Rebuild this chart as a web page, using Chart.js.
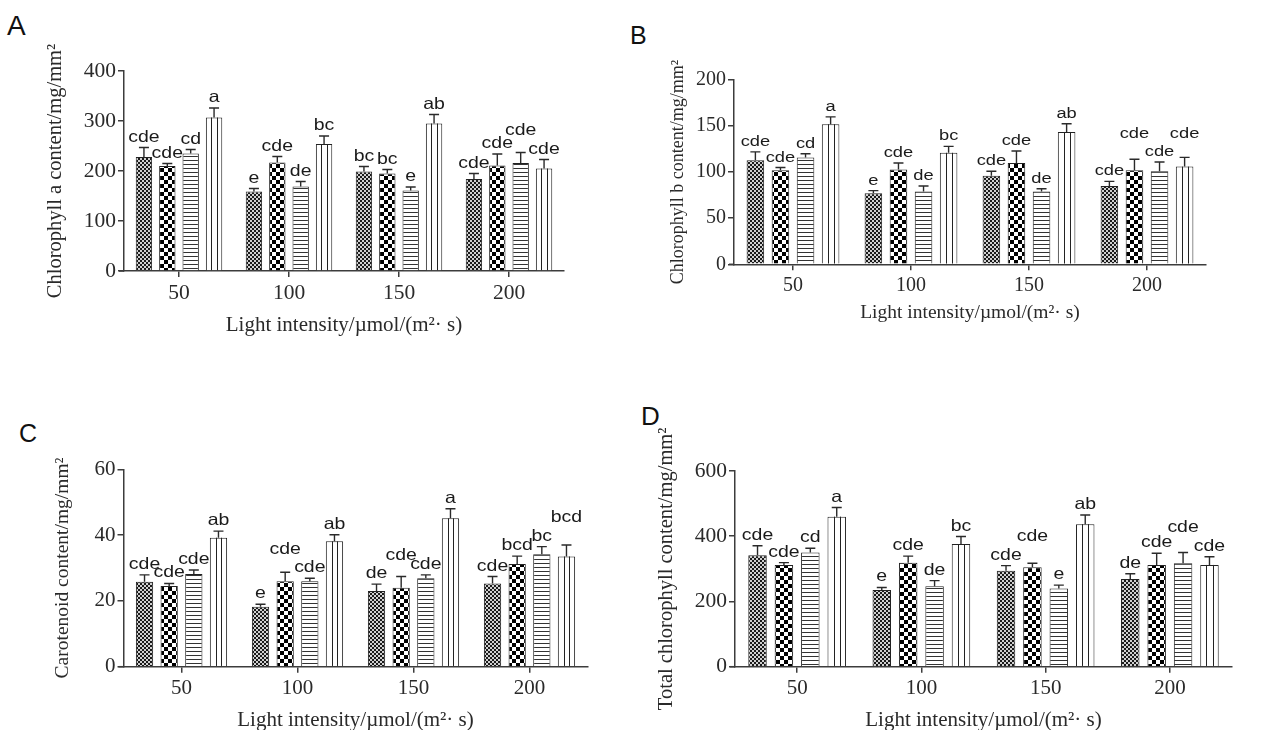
<!DOCTYPE html>
<html><head><meta charset="utf-8">
<script src="https://cdn.jsdelivr.net/npm/chart.js@4.4.0/dist/chart.umd.min.js"></script>
<style>
html,body{margin:0;padding:0;background:#fff;width:1265px;height:730px;overflow:hidden;position:relative}
canvas{position:absolute}
.let{position:absolute;font-family:"Liberation Sans",Arial,sans-serif;line-height:1;color:#111}
</style></head><body>
<div class="let" style="left:7px;top:12px;font-size:28px">A</div>
<div class="let" style="left:630px;top:23px;font-size:25px">B</div>
<div class="let" style="left:19px;top:421px;font-size:25px">C</div>
<div class="let" style="left:641px;top:403px;font-size:26px">D</div>
<canvas id="cA" width="620" height="345" style="left:0px;top:0px"></canvas>
<canvas id="cB" width="655" height="345" style="left:610px;top:0px"></canvas>
<canvas id="cC" width="620" height="345" style="left:0px;top:395px"></canvas>
<canvas id="cD" width="645" height="380" style="left:620px;top:360px"></canvas>
<script>
// ---------- data ----------
const categories = ['50', '100', '150', '200'];
const seriesNames = ['8h/16h L/D', '12h/12h L/D', '16h/8h L/D', '20h/4h L/D'];

// Panel A: Chlorophyll a (one inner array per series, in seriesNames order)
const chlA_values = [[228, 159, 199, 184], [210, 217, 195, 211], [235, 169, 161, 216], [307, 254, 295, 205]];
const chlA_errors = [[19, 6, 10, 11], [5, 12, 8, 23], [8, 10, 7, 21], [19, 16, 18, 18]];
const chlA_letters = [['cde', 'e', 'bc', 'cde'], ['cde', 'cde', 'bc', 'cde'], ['cd', 'de', 'e', 'cde'], ['a', 'bc', 'ab', 'cde']];

// Panel B: Chlorophyll b
const chlB_values = [[113, 77, 96, 85], [102, 103, 110, 102], [116, 79, 79, 101], [152, 121, 143.6, 106]];
const chlB_errors = [[9, 3, 5, 5], [3, 7, 13, 12], [4, 6, 3, 10], [8, 7, 9, 10]];
const chlB_letters = [['cde', 'e', 'cde', 'cde'], ['cde', 'cde', 'cde', 'cde'], ['cd', 'de', 'de', 'cde'], ['a', 'bc', 'ab', 'cde']];

// Panel C: Carotenoid
const car_values = [[25.8, 18.2, 23, 25.3], [24.5, 26, 24, 31.2], [28.2, 26, 26.9, 34.2], [39.2, 38.1, 45.1, 33.5]];
const car_errors = [[2.1, 0.8, 2.1, 2.1], [0.8, 2.7, 3.4, 2.4], [1.2, 0.9, 1.0, 2.3], [2.0, 2.0, 2.9, 3.5]];
const car_letters = [['cde', 'e', 'de', 'cde'], ['cde', 'cde', 'cde', 'bcd'], ['cde', 'cde', 'cde', 'bc'], ['ab', 'ab', 'a', 'bcd']];

// Panel D: Total chlorophyll
const tot_values = [[342, 235, 294, 269], [312, 319, 305, 312], [350, 247, 240, 317], [460, 376, 437, 312]];
const tot_errors = [[29, 8, 16, 16], [7, 20, 12, 36], [13, 17, 10, 33], [28, 23, 28, 25]];
const tot_letters = [['cde', 'e', 'cde', 'de'], ['cde', 'cde', 'cde', 'cde'], ['cd', 'de', 'e', 'cde'], ['a', 'bc', 'ab', 'cde']];

const yTitles = ['Chlorophyll a content/mg/mm\u00B2', 'Chlorophyll b content/mg/mm\u00B2', 'Carotenoid content/mg/mm\u00B2', 'Total chlorophyll content/mg/mm\u00B2'];
const xTitle = 'Light intensity/\u00B5mol/(m\u00B2\u00B7 s)';

// ---------- patterns ----------
function makePattern(kind) {
  const c = document.createElement('canvas');
  const g = c.getContext('2d');
  if (kind === 'fine') {
    c.width = 4; c.height = 4;
    g.fillStyle = '#d0d0d0'; g.fillRect(0, 0, 4, 4);
    g.fillStyle = '#1a1a1a'; g.fillRect(0, 0, 2, 2); g.fillRect(2, 2, 2, 2);
  } else if (kind === 'checker') {
    c.width = 8; c.height = 8;
    g.fillStyle = '#ffffff'; g.fillRect(0, 0, 8, 8);
    g.fillStyle = '#000000'; g.fillRect(0, 0, 4, 4); g.fillRect(4, 4, 4, 4);
  } else if (kind === 'hlines') {
    c.width = 4; c.height = 4;
    g.fillStyle = '#ffffff'; g.fillRect(0, 0, 4, 4);
    g.fillStyle = '#333333'; g.fillRect(0, 0, 4, 1);
  } else {
    c.width = 4; c.height = 4;
    g.fillStyle = '#ffffff'; g.fillRect(0, 0, 4, 4);
  }
  return g.createPattern(c, 'repeat');
}
const fills = [makePattern('fine'), makePattern('checker'), makePattern('hlines'), makePattern('plain')];

// ---------- plugins ----------
const LABEL_STRETCH = 1.18;
const AXIS = '#3c3c3c';
const TXT = '#2a2a2a';
const SERIF = '"Liberation Serif", "Times New Roman", serif';

const decoPlugin = {
  id: 'deco',
  afterDatasetsDraw(chart, args, opts) {
    const ctx = chart.ctx, ys = chart.scales.y;
    const dsets = chart.data.datasets;
    const area = chart.chartArea;
    ctx.save();
    // short stub of the x axis left of the y axis
    ctx.strokeStyle = AXIS; ctx.lineWidth = 1.5;
    ctx.beginPath(); ctx.moveTo(area.left - 5, area.bottom); ctx.lineTo(area.left, area.bottom); ctx.stroke();
    // vertical lines inside 20h/4h bars
    dsets.forEach((ds, di) => {
      if (!ds.vlines) return;
      chart.getDatasetMeta(di).data.forEach(bar => {
        const p = bar.getProps(['x', 'y', 'base', 'width'], true);
        const left = p.x - p.width / 2;
        ctx.strokeStyle = '#222'; ctx.lineWidth = 1;
        for (let k = 1; k < 3; k++) {
          const xx = Math.round(left + p.width * k / 3) + 0.5;
          ctx.beginPath(); ctx.moveTo(xx, p.y); ctx.lineTo(xx, p.base); ctx.stroke();
        }
      });
    });
    // error bars (upper half with cap)
    dsets.forEach((ds, di) => {
      chart.getDatasetMeta(di).data.forEach((bar, i) => {
        const p = bar.getProps(['x', 'y'], true);
        const top = ys.getPixelForValue(ds.data[i] + ds.errors[i]);
        ctx.strokeStyle = '#2a2a2a'; ctx.lineWidth = 1.4;
        ctx.beginPath();
        ctx.moveTo(p.x, p.y); ctx.lineTo(p.x, top);
        ctx.moveTo(p.x - 5, top); ctx.lineTo(p.x + 5, top);
        ctx.stroke();
      });
    });
    // significance letters; a label is lifted when it would collide with a neighbour
    const size = (opts && opts.labelSize) || 16.5;
    ctx.font = size + 'px "Liberation Sans", Arial, sans-serif';
    ctx.fillStyle = '#1a1a1a';
    ctx.textAlign = 'center';
    ctx.textBaseline = 'alphabetic';
    const capH = 12.5;
    const nCat = chart.data.labels.length;
    for (let c = 0; c < nCat; c++) {
      const items = dsets.map((ds, di) => ({
        x: chart.getDatasetMeta(di).data[c].x,
        top: ys.getPixelForValue(ds.data[c] + ds.errors[c]),
        text: ds.letters[c]
      }));
      const order = items.map((_, i) => i).sort((a, b) => items[b].top - items[a].top);
      const placed = [];
      order.forEach(i => {
        const it = items[i];
        const w = ctx.measureText(it.text).width * LABEL_STRETCH;
        let base = it.top - 6;
        let moved = true, guard = 0;
        while (moved && guard++ < 10) {
          moved = false;
          for (const b of placed) {
            const hOv = Math.min(it.x + w / 2, b.x + b.w / 2) - Math.max(it.x - w / 2, b.x - b.w / 2);
            const vOv = Math.min(base, b.base) - Math.max(base - capH, b.base - capH);
            if (hOv > 1 && vOv > 4) { base = b.base - capH - 6; moved = true; }
          }
        }
        placed.push({ x: it.x, w, base });
        ctx.save();
        ctx.translate(it.x, base);
        ctx.scale(LABEL_STRETCH, 1);
        ctx.fillText(it.text, 0, 0);
        ctx.restore();
      });
    }
    ctx.restore();
  }
};

const legendPlugin = {
  id: 'sideLegend',
  afterDraw(chart, args, opts) {
    if (!opts || !opts.show) return;
    const ctx = chart.ctx;
    ctx.save();
    chart.data.datasets.forEach((ds, i) => {
      const cy = opts.y + i * opts.pitch;
      const x = opts.x;
      ctx.fillStyle = ds.backgroundColor;
      ctx.fillRect(x, cy - 5, 22, 10);
      ctx.strokeStyle = '#222'; ctx.lineWidth = 1;
      ctx.strokeRect(x + 0.5, cy - 4.5, 21, 9);
      if (ds.vlines) {
        for (let k = 1; k < 4; k++) {
          const xx = Math.round(x + 22 * k / 4) + 0.5;
          ctx.beginPath(); ctx.moveTo(xx, cy - 5); ctx.lineTo(xx, cy + 5); ctx.stroke();
        }
      }
      ctx.fillStyle = '#222';
      ctx.font = '16.5px "Liberation Sans", Arial, sans-serif';
      ctx.textAlign = 'left'; ctx.textBaseline = 'middle';
      ctx.fillText(ds.label, x + 35, cy + 1);
    });
    ctx.restore();
  }
};

// ---------- panel builder ----------
function makePanel(id, s) {
  const datasets = s.values.map((vals, k) => ({
    label: seriesNames[k],
    data: vals,
    errors: s.errors[k],
    letters: s.letters[k],
    vlines: k === 3,
    backgroundColor: fills[k],
    borderColor: '#222',
    borderWidth: 1,
    categoryPercentage: 0.85,
    barPercentage: 0.7
  }));
  const ytLH = s.yTitleSize * 1.2, xtLH = s.xTitleSize * 1.2;
  new Chart(document.getElementById(id), {
    type: 'bar',
    data: { labels: categories, datasets },
    options: {
      responsive: false, animation: false, events: [], devicePixelRatio: 1,
      layout: { padding: { left: 0, top: s.plot.t - s.cy, right: s.cx + s.w - s.plot.r, bottom: 0 } },
      plugins: {
        legend: { display: false }, tooltip: { enabled: false },
        sideLegend: s.legend || { show: false },
        deco: { labelSize: s.labelSize }
      },
      scales: {
        x: {
          grid: { offset: false, drawOnChartArea: false, tickLength: 6, color: AXIS, lineWidth: 1.5 },
          border: { color: AXIS, width: 1.5 },
          ticks: { font: { family: SERIF, size: s.xTickSize }, color: TXT, padding: 3, maxRotation: 0 },
          title: { display: true, text: xTitle, font: { family: SERIF, size: s.xTitleSize }, color: TXT,
                   padding: { top: 0, bottom: (s.cy + s.h) - s.xTitleY - xtLH / 2 } },
          afterFit(scale) { scale.height = (s.cy + s.h) - s.plot.b; }
        },
        y: {
          min: 0, max: s.yMax,
          grid: { drawOnChartArea: false, tickLength: 6, color: AXIS, lineWidth: 1.5 },
          border: { color: AXIS, width: 1.5 },
          ticks: { stepSize: s.yStep, font: { family: SERIF, size: s.yTickSize }, color: TXT, padding: 2 },
          title: { display: true, text: s.yTitle, font: { family: SERIF, size: s.yTitleSize }, color: TXT,
                   padding: { top: (s.yTitleX - s.cx) - ytLH / 2, bottom: 0 } },
          afterFit(scale) { scale.width = s.plot.l - s.cx; }
        }
      }
    },
    plugins: [decoPlugin, legendPlugin]
  });
}

makePanel('cA', {
  cx: 0, cy: 0, w: 620, h: 345, plot: { l: 124, t: 71, r: 564, b: 271 },
  yTitleX: 56, xTitleY: 325, yMax: 400, yStep: 100, yTitle: yTitles[0],
  yTickSize: 21.5, xTickSize: 21.5, yTitleSize: 20.5, xTitleSize: 21, labelSize: 16.5,
  values: chlA_values, errors: chlA_errors, letters: chlA_letters
});
makePanel('cB', {
  cx: 610, cy: 0, w: 655, h: 345, plot: { l: 734, t: 80, r: 1206, b: 264.3 },
  yTitleX: 678, xTitleY: 313, yMax: 200, yStep: 50, yTitle: yTitles[1],
  yTickSize: 20, xTickSize: 20, yTitleSize: 18, xTitleSize: 19.5, labelSize: 15.5,
  values: chlB_values, errors: chlB_errors, letters: chlB_letters
});
makePanel('cC', {
  cx: 0, cy: 395, w: 620, h: 345, plot: { l: 123.5, t: 469.3, r: 587.5, b: 666.7 },
  yTitleX: 63, xTitleY: 720, yMax: 60, yStep: 20, yTitle: yTitles[2],
  yTickSize: 21, xTickSize: 21, yTitleSize: 19.5, xTitleSize: 21, labelSize: 16.5,
  values: car_values, errors: car_errors, letters: car_letters
});
makePanel('cD', {
  cx: 620, cy: 360, w: 645, h: 380, plot: { l: 735, t: 471, r: 1232, b: 666.7 },
  yTitleX: 667, xTitleY: 720, yMax: 600, yStep: 200, yTitle: yTitles[3],
  yTickSize: 21.5, xTickSize: 21, yTitleSize: 20.5, xTitleSize: 21, labelSize: 16.5,
  values: tot_values, errors: tot_errors, letters: tot_letters,
  legend: { show: true, x: 518, y: 377, pitch: 22.2 }
});
</script>
</body></html>
